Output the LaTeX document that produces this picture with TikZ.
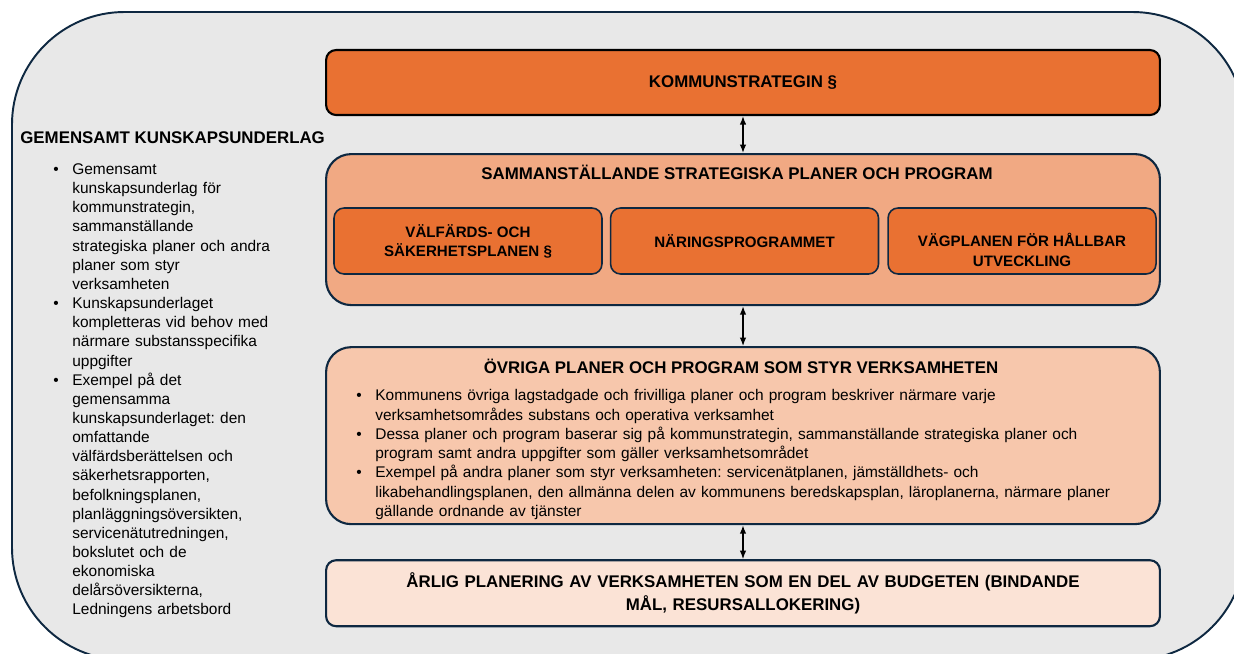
\documentclass[tikz,border=0pt]{standalone}
\usepackage{fontspec}
\setmainfont{Liberation Sans}
\usepackage{tikz}
\usetikzlibrary{positioning}
\usetikzlibrary{arrows.meta}

\definecolor{orangeA}{HTML}{E97132}
\definecolor{orangeB}{HTML}{F1A983}
\definecolor{orangeC}{HTML}{F7C7AC}
\definecolor{orangeD}{HTML}{FBE3D6}
\definecolor{navy}{HTML}{0E2841}
\definecolor{bggray}{HTML}{E8E8E8}

% punktlista med fast indrag
\newenvironment{punkter}[1]{%
  \begin{list}{\textbullet}{\setlength{\leftmargin}{#1}\setlength{\labelwidth}{0.2cm}%
    \setlength{\labelsep}{0.27cm}\setlength{\itemsep}{0pt}\setlength{\parsep}{0pt}%
    \setlength{\topsep}{0pt}\setlength{\partopsep}{0pt}}}%
  {\end{list}}

\frenchspacing

\begin{document}
\begin{tikzpicture}[x=0.02cm, y=-0.02cm,
    every node/.style={font=\fontsize{8.8}{10.9}\selectfont},
    ram/.style={draw=navy, line width=1.1pt, fill=bggray, rounded corners=2.25cm},
    huvudbox/.style={draw=navy, line width=1.2pt, minimum width=16.68cm},
    delbox/.style={draw=navy, line width=0.9pt, rounded corners=0.2cm, fill=orangeA,
      minimum width=5.36cm, minimum height=1.32cm, align=center,
      font=\fontsize{8.6}{10.8}\selectfont\bfseries},
    rubrik/.style={inner sep=0pt, font=\fontsize{9.6}{11.5}\selectfont\bfseries},
    pil/.style={<->, >={Latex[length=0.17cm, width=0.13cm]}, line width=0.8pt}]

  \useasboundingbox (0,0) rectangle (1234,653);
  \clip (0,0) rectangle (1234,653);

  % Ram runt allt
  \draw[ram] (12,12) rectangle (1245,660);

  % Gemensamt kunskapsunderlag (vänster)
  \node[rubrik, anchor=west] (kunskap) at (20,138) {GEMENSAMT KUNSKAPSUNDERLAG};
  \node[inner sep=0pt, anchor=north west, text width=6cm] (kunskaplista) at (52,155) {%
    \begin{punkter}{0.4cm}
      \item Gemensamt\\ kunskapsunderlag för\\ kommunstrategin,\\ sammanställande\\
        strategiska planer och andra\\ planer som styr\\ verksamheten
      \item Kunskapsunderlaget\\ kompletteras vid behov med\\ närmare substansspecifika\\ uppgifter
      \item Exempel på det\\ gemensamma\\ kunskapsunderlaget: den\\ omfattande\\
        välfärdsberättelsen och\\ säkerhetsrapporten,\\ befolkningsplanen,\\
        planläggningsöversikten,\\ servicenätutredningen,\\ bokslutet och de\\
        ekonomiska\\ delårsöversikterna,\\ Ledningens arbetsbord
    \end{punkter}};

  % Kommunstrategin
  \node[huvudbox, draw=black, fill=orangeA, rounded corners=0.2cm, minimum height=1.3cm,
    font=\fontsize{9.6}{11.5}\selectfont\bfseries] (komm) at (743,82.5) {KOMMUNSTRATEGIN §};

  % Sammanställande strategiska planer
  \node[huvudbox, fill=orangeB, rounded corners=0.5cm, minimum height=3.02cm] (strat) [below=0.74cm of komm] {};
  \node[rubrik] (strattitel) at (737,172) {SAMMANSTÄLLANDE STRATEGISKA PLANER OCH PROGRAM};
  \node[delbox] (welf) at (468,241) {VÄLFÄRDS- OCH\\ SÄKERHETSPLANEN §};
  \node[delbox] (naer) [right=0.14cm of welf] {NÄRINGSPROGRAMMET};
  \node[delbox] (vag) [right=0.16cm of naer] {};
  \node[align=center, font=\fontsize{8.6}{11.2}\selectfont\bfseries] (vagtext) at ([yshift=-0.18cm]vag.center)
    {VÄGPLANEN FÖR HÅLLBAR\\ UTVECKLING};

  % Övriga planer
  \node[huvudbox, fill=orangeC, rounded corners=0.5cm, minimum height=3.54cm] (ovr) [below=0.8cm of strat] {};
  \node[rubrik] (ovrtitel) at (741,366) {ÖVRIGA PLANER OCH PROGRAM SOM STYR VERKSAMHETEN};
  \node[inner sep=0pt, anchor=north west, text width=16cm,
    font=\fontsize{8.8}{11}\selectfont] (ovrlista) at (355,381) {%
    \begin{punkter}{0.4cm}
      \item Kommunens övriga lagstadgade och frivilliga planer och program beskriver närmare varje\\
        verksamhetsområdes substans och operativa verksamhet
      \item Dessa planer och program baserar sig på kommunstrategin, sammanställande strategiska planer och\\
        program samt andra uppgifter som gäller verksamhetsområdet
      \item Exempel på andra planer som styr verksamheten: servicenätplanen, jämställdhets- och\\
        likabehandlingsplanen, den allmänna delen av kommunens beredskapsplan, läroplanerna, närmare planer\\
        gällande ordnande av tjänster
    \end{punkter}};

  % Årlig planering
  \node[huvudbox, fill=orangeD, rounded corners=0.2cm, minimum height=1.32cm, align=center,
    text width=14cm, font=\fontsize{9.6}{13}\selectfont\bfseries] (arlig) [below=0.68cm of ovr]
    {ÅRLIG PLANERING AV VERKSAMHETEN SOM EN DEL AV BUDGETEN (BINDANDE\\ MÅL, RESURSALLOKERING)};

  % Pilar
  \draw[pil] (komm) -- (strat);
  \draw[pil] (strat) -- (ovr);
  \draw[pil] (ovr) -- (arlig);

\end{tikzpicture}
\end{document}
